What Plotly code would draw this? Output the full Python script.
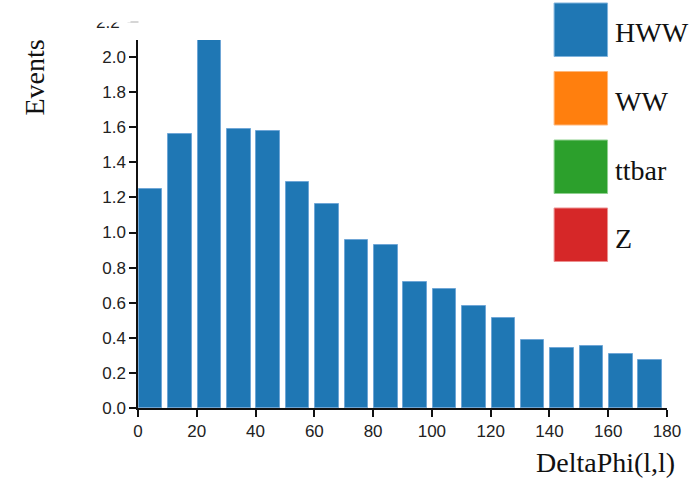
import plotly.graph_objects as go

# Data
bin_lefts = [0, 10, 20, 30, 40, 50, 60, 70, 80, 90, 100, 110, 120, 130, 140, 150, 160, 170]
hww_events = [1.25, 1.56, 2.097, 1.59, 1.58, 1.29, 1.165, 0.96, 0.93, 0.72, 0.68, 0.58,
              0.515, 0.385, 0.34, 0.355, 0.31, 0.275]
legend_names = ["HWW", "WW", "ttbar", "Z"]
legend_colors = ["#1f77b4", "#ff7f0e", "#2ca02c", "#d62728"]
legend_edges = ["#7fb3dc", "#ffb77a", "#8fd08f", "#ec8f8f"]
x_ticks = [0, 20, 40, 60, 80, 100, 120, 140, 160, 180]
y_ticks = [0.0, 0.2, 0.4, 0.6, 0.8, 1.0, 1.2, 1.4, 1.6, 1.8, 2.0]

W, H = 699, 478
L, R, T, B = 137.5, 32, 40, 70
pw, ph = W - L - R, H - T - B

def px(x):
    return (x - L) / pw

def py(y):
    return (H - B - y) / ph

serif = "Liberation Serif, Times New Roman, serif"
sans = "Liberation Sans, Arial, Helvetica, sans-serif"

fig = go.Figure()
fig.add_trace(go.Bar(
    x=bin_lefts, y=hww_events, width=8.0, offset=0.3,
    marker=dict(color="#1f77b4", line=dict(color="#6fa6d6", width=1)),
    showlegend=False, hoverinfo="skip",
))

shapes = []
annotations = []
sq_tops = [3, 71.5, 140, 208]
for name, col, edge, top in zip(legend_names, legend_colors, legend_edges, sq_tops):
    shapes.append(dict(type="rect", xref="paper", yref="paper",
                       x0=px(554), x1=px(607.5), y0=py(top + 53.5), y1=py(top),
                       fillcolor=col, line=dict(color=edge, width=1), layer="above"))
    annotations.append(dict(text=name, xref="paper", yref="paper",
                            x=px(613), y=py(top + 30), xanchor="left", yanchor="middle",
                            showarrow=False, font=dict(family=serif, size=28, color="#111")))

# stale partially hidden 2.2 label
annotations.append(dict(text="2.2", xref="paper", yref="paper", x=px(121), y=py(22.5),
                        xanchor="right", yanchor="middle", showarrow=False,
                        font=dict(family=sans, size=17, color="#222")))
annotations.append(dict(text=" ", xref="paper", yref="paper", x=px(108), y=py(11),
                        xanchor="center", yanchor="middle", showarrow=False,
                        width=40, height=20, bgcolor="white"))
shapes.append(dict(type="line", xref="paper", yref="paper", x0=px(127), x1=px(138),
                   y0=py(22), y1=py(22), line=dict(color="#bbbbbb", width=1.2)))

annotations.append(dict(text="Events", xref="paper", yref="paper", x=px(33), y=py(78),
                        xanchor="center", yanchor="middle", textangle=-90, showarrow=False,
                        font=dict(family=serif, size=28, color="#111")))
annotations.append(dict(text="DeltaPhi(l,l)", xref="paper", yref="paper", x=px(677), y=py(462),
                        xanchor="right", yanchor="middle", showarrow=False,
                        font=dict(family=serif, size=28, color="#111")))

fig.update_layout(
    width=W, height=H,
    margin=dict(l=L, r=R, t=T, b=B, pad=0),
    paper_bgcolor="white", plot_bgcolor="white",
    bargap=0,
    shapes=shapes, annotations=annotations,
    xaxis=dict(range=[0, 180], tickvals=x_ticks, ticks="outside", ticklen=7, tickwidth=1.5,
               tickcolor="#111", showline=True, linecolor="#111", linewidth=1.5,
               showgrid=False, zeroline=False, tickfont=dict(family=sans, size=17, color="#222")),
    yaxis=dict(range=[0, 2.097], tickvals=y_ticks, tickformat=".1f", ticks="outside", ticklen=7,
               tickwidth=1.5, tickcolor="#111", showline=True, linecolor="#111", linewidth=1.5,
               showgrid=False, zeroline=False, tickfont=dict(family=sans, size=17, color="#222")),
)

fig.write_html("out.html", config={"displayModeBar": False},
               post_script="document.body.style.margin='0';document.body.style.overflow='hidden';")
